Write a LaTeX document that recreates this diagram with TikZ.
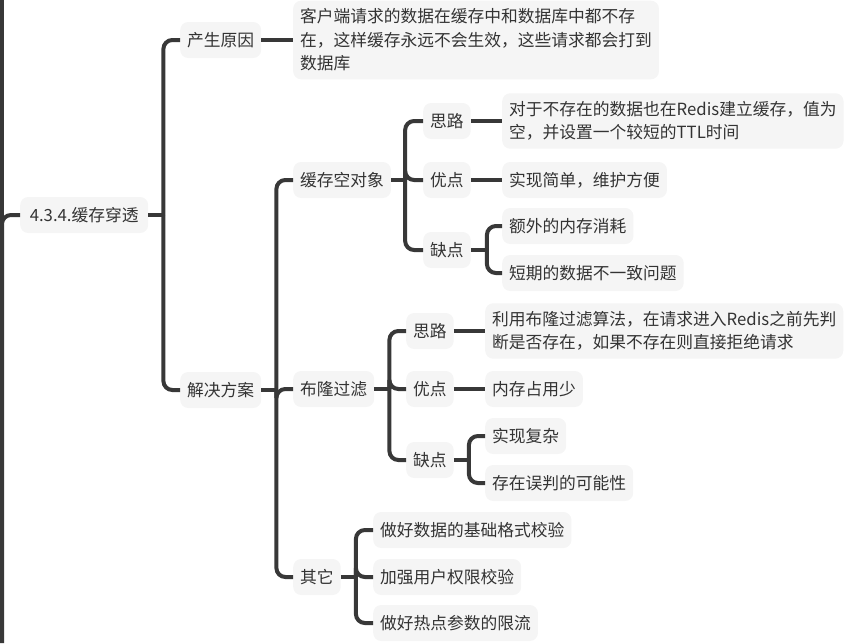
\documentclass[tikz,border=0pt]{standalone}
\usepackage{fontspec}
\setmainfont{Noto Sans CJK SC}
\usetikzlibrary{positioning}
\definecolor{mapLine}{HTML}{383838}
\definecolor{mapFill}{HTML}{F5F5F5}
\definecolor{mapText}{HTML}{333333}

\begin{document}
\begin{tikzpicture}[x=1pt, y=-1pt,
    topic/.style={rectangle, rounded corners=8pt, fill=mapFill, text=mapText, font=\fontsize{16.75}{23.5}\selectfont, inner xsep=7pt, inner ysep=8pt, minimum height=36pt, anchor=west, align=left},
    link/.style={draw=mapLine, line width=4pt},
    elbow/.style={link, rounded corners=9pt},
]
\useasboundingbox (0,0) rectangle (854,643);
\coordinate (upEnd) at (2,0);
\coordinate (downEnd) at (2,643);

\node[topic, minimum width=128pt] (root) at (20,215) {4.3.4.缓存穿透};
\node[topic] (cause) at (180,40) {产生原因};
\node[topic] (causeTxt) at (293,40) {客户端请求的数据在缓存中和数据库中都不存\\在，这样缓存永远不会生效，这些请求都会打到\\数据库};
\node[topic] (sol) at (180,390) {解决方案};

\node[topic] (nullObj) at (293,180) {缓存空对象};
\node[topic] (nullIdea) at (423,121) {思路};
\node[topic] (nullIdeaTxt) at (502,121) {对于不存在的数据也在Redis建立缓存，值为\\空，并设置一个较短的TTL时间};
\node[topic] (nullPro) at (423,180) {优点};
\node[topic] (nullProTxt) at (502,180) {实现简单，维护方便};
\node[topic] (nullCon) at (423,250) {缺点};
\node[topic] (nullConA) at (502,226) {额外的内存消耗};
\node[topic] (nullConB) at (502,273) {短期的数据不一致问题};

\node[topic] (bloom) at (293,389) {布隆过滤};
\node[topic] (bloomIdea) at (406,331) {思路};
\node[topic] (bloomIdeaTxt) at (485,331) {利用布隆过滤算法，在请求进入Redis之前先判\\断是否存在，如果不存在则直接拒绝请求};
\node[topic] (bloomPro) at (406,389) {优点};
\node[topic] (bloomProTxt) at (485,389) {内存占用少};
\node[topic] (bloomCon) at (406,460) {缺点};
\node[topic] (bloomConA) at (485,436) {实现复杂};
\node[topic] (bloomConB) at (485,483) {存在误判的可能性};

\node[topic] (other) at (293,577) {其它};
\node[topic] (otherA) at (373,530) {做好数据的基础格式校验};
\node[topic] (otherB) at (373,577) {加强用户权限校验};
\node[topic] (otherC) at (373,623) {做好热点参数的限流};

\draw[link] (upEnd) -- (downEnd);
\draw[elbow] (downEnd) |- (root.west);

\draw[link] (root.east) -- ++(15,0) coordinate (rootJ);
\foreach \c in {cause,sol} \draw[elbow] (rootJ) |- (\c.west);
\draw[link] (cause.east) -- (causeTxt.west);

\draw[link] (sol.east) -- ++(15,0) coordinate (solJ);
\foreach \c in {nullObj,bloom,other} \draw[elbow] (solJ) |- (\c.west);

\draw[link] (nullObj.east) -- ++(14,0) coordinate (nullJ);
\foreach \c in {nullIdea,nullPro,nullCon} \draw[elbow] (nullJ) |- (\c.west);
\draw[link] (nullIdea.east) -- (nullIdeaTxt.west);
\draw[link] (nullPro.east) -- (nullProTxt.west);
\draw[link] (nullCon.east) -- ++(16,0) coordinate (nullConJ);
\foreach \c in {nullConA,nullConB} \draw[elbow] (nullConJ) |- (\c.west);

\draw[link] (bloom.east) -- ++(15,0) coordinate (bloomJ);
\foreach \c in {bloomIdea,bloomPro,bloomCon} \draw[elbow] (bloomJ) |- (\c.west);
\draw[link] (bloomIdea.east) -- (bloomIdeaTxt.west);
\draw[link] (bloomPro.east) -- (bloomProTxt.west);
\draw[link] (bloomCon.east) -- ++(15,0) coordinate (bloomConJ);
\foreach \c in {bloomConA,bloomConB} \draw[elbow] (bloomConJ) |- (\c.west);

\draw[link] (other.east) -- ++(15,0) coordinate (otherJ);
\foreach \c in {otherA,otherB,otherC} \draw[elbow] (otherJ) |- (\c.west);
\end{tikzpicture}
\end{document}
